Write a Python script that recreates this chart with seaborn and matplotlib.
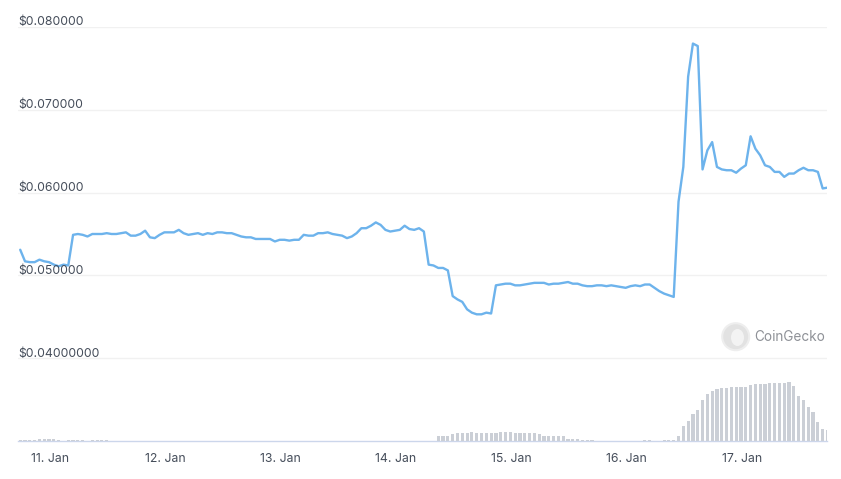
import pandas as pd
import matplotlib.pyplot as plt
import matplotlib.transforms as mtransforms
from matplotlib.patches import Circle, Ellipse
import seaborn as sns

# Hourly price (USD), starting 10 Jan ~17:48
price = [
    0.0531, 0.0517, 0.0516, 0.0516, 0.0519, 0.0517, 0.0516, 0.0513, 0.0511, 0.0513,
    0.0512, 0.0549, 0.0550, 0.0549, 0.0547, 0.0550, 0.0550, 0.0550, 0.0551, 0.0550,
    0.0550, 0.0551, 0.0552, 0.0548, 0.0548, 0.0550, 0.0554, 0.0546, 0.0545, 0.0549,
    0.0552, 0.0552, 0.0552, 0.0555, 0.0551, 0.0549, 0.0550, 0.0551, 0.0549, 0.0551,
    0.0550, 0.0552, 0.0552, 0.0551, 0.0551, 0.0549, 0.0547, 0.0546, 0.0546, 0.0544,
    0.0544, 0.0544, 0.0544, 0.0541, 0.0543, 0.0543, 0.0542, 0.0543, 0.0543, 0.0549,
    0.0548, 0.0548, 0.0551, 0.0551, 0.0552, 0.0550, 0.0549, 0.0548, 0.0545, 0.0547,
    0.0551, 0.0557, 0.0557, 0.0560, 0.0564, 0.0561, 0.0555, 0.0553, 0.0554, 0.0555,
    0.0560, 0.0556, 0.0555, 0.0557, 0.0553, 0.0513, 0.0512, 0.0509, 0.0509, 0.0506,
    0.0475, 0.0471, 0.0468, 0.0459, 0.0455, 0.0453, 0.0453, 0.0455, 0.0454, 0.0488,
    0.0489, 0.0490, 0.0490, 0.0488, 0.0488, 0.0489, 0.0490, 0.0491, 0.0491, 0.0491,
    0.0489, 0.0490, 0.0490, 0.0491, 0.0492, 0.0490, 0.0490, 0.0488, 0.0487, 0.0487,
    0.0488, 0.0488, 0.0487, 0.0488, 0.0487, 0.0486, 0.0485, 0.0487, 0.0488, 0.0487,
    0.0489, 0.0489, 0.0485, 0.0481, 0.0478, 0.0476, 0.0474, 0.0589, 0.0631, 0.0740,
    0.0780, 0.0777, 0.0628, 0.0651, 0.0661, 0.0631, 0.0628, 0.0627, 0.0627, 0.0624,
    0.0629, 0.0633, 0.0668, 0.0653, 0.0645, 0.0633, 0.0631, 0.0625, 0.0625, 0.0619,
    0.0623, 0.0623, 0.0627, 0.0630, 0.0627, 0.0627, 0.0625, 0.0605, 0.0606,
]

# Hourly volume (relative units)
volume = [
    1, 1, 1, 1, 1.5, 1.5, 1.5, 1.5, 1, 0,
    1, 1, 1, 1, 0, 1, 1, 1, 1, 0,
    0, 0, 0, 0, 0, 0, 0, 0, 0, 0,
    0, 0, 0, 0, 0, 0, 0, 0, 0, 0,
    0, 0, 0, 0, 0, 0, 0, 0, 0, 0,
    0, 0, 0, 0, 0, 0, 0, 0, 0, 0,
    0, 0, 0, 0, 0, 0, 0, 0, 0, 0,
    0, 0, 0, 0, 0, 0, 0, 0, 0, 0,
    0, 0, 0, 0, 0, 0, 0, 5, 5, 5,
    7, 8, 8, 8, 9, 8, 8, 8, 8, 8,
    9, 9, 9, 8, 8, 8, 8, 8, 7, 5,
    5, 5, 5, 5, 2, 2, 2, 1, 1, 1,
    0, 0, 0, 0, 0, 0, 0, 0, 0, 0,
    1, 1, 0, 0, 1, 1, 1, 5, 15, 20,
    27, 31, 41, 47, 50, 52, 53, 53, 54, 54,
    54, 54, 56, 57, 57, 57, 58, 58, 58, 58,
    59, 55, 45, 41, 34, 29, 19, 12, 11,
]

day_ticks = [0, 24, 48, 72, 96, 120, 144]
day_labels = ["11. Jan", "12. Jan", "13. Jan", "14. Jan", "15. Jan", "16. Jan", "17. Jan"]
price_ticks = [0.04, 0.05, 0.06, 0.07, 0.08]
price_labels = ["$0.04000000", "$0.050000", "$0.060000", "$0.070000", "$0.080000"]

times = pd.date_range("2021-01-10 17:48", periods=len(price), freq="h")
hours = (times - pd.Timestamp("2021-01-11")) / pd.Timedelta(hours=1)
df = pd.DataFrame({"hours": hours, "price": price, "volume": volume})

sns.set_style("white")
plt.rcParams["font.family"] = ["Inter", "DejaVu Sans"]

text_color = "#454d5a"

fig = plt.figure(figsize=(8.41, 4.79), dpi=100)
ax = fig.add_axes([18 / 841, 38 / 479, 809 / 841, 414 / 479])
ax_vol = ax.twinx()

# Volume bars on their own (hidden) scale at the bottom
sns.barplot(data=df, x="hours", y="volume", native_scale=True, orient="x",
            color="#cbcfd6", saturation=1, width=0.66, errorbar=None,
            linewidth=0, ax=ax_vol)
ax_vol.set_ylim(0, max(volume) * 7.0)
ax_vol.set_yticks([])
ax_vol.set_ylabel("")
for s in ax_vol.spines.values():
    s.set_visible(False)

# Price line
sns.lineplot(data=df, x="hours", y="price", color="#6db3ec", linewidth=1.7, ax=ax)
ax.set_ylim(0.03, 0.08)
ax.set_xlim(-6.66, 161.7)
ax.set_xlabel("")
ax.set_ylabel("")

ax.set_yticks(price_ticks)
ax.set_yticklabels([])
ax.tick_params(axis="y", length=0)
ax.yaxis.grid(True, color="#f1f1f1", linewidth=1)
ax.set_axisbelow(True)

trans = mtransforms.offset_copy(ax.get_yaxis_transform(), fig=fig, y=1.5, units="dots")
for val, lab in zip(price_ticks, price_labels):
    ax.text(0, val, lab, transform=trans, ha="left", va="baseline",
            fontsize=8.8, color=text_color)

ax.set_xticks(day_ticks)
ax.set_xticklabels(day_labels)
ax.tick_params(axis="x", length=7.2, width=1, color="#ccd6eb",
               labelsize=8.8, labelcolor=text_color, pad=1.5)

for name, s in ax.spines.items():
    s.set_visible(name == "bottom")
ax.spines["bottom"].set_color("#ccd6eb")
ax.spines["bottom"].set_linewidth(1)

# CoinGecko watermark
fig.add_artist(Circle((7.357, 1.423), 0.135, transform=fig.dpi_scale_trans,
                      facecolor="#e2e2e2", edgecolor="#eeeeee", linewidth=1.5))
fig.add_artist(Ellipse((7.375, 1.415), 0.13, 0.17, transform=fig.dpi_scale_trans,
                       facecolor="#f3f3f3", edgecolor="none"))
fig.text(754 / 841, 1 - 336.7 / 479, "CoinGecko", ha="left", va="center",
         fontsize=9.8, color="#8e9197")

fig.savefig("out.png", dpi=100)
